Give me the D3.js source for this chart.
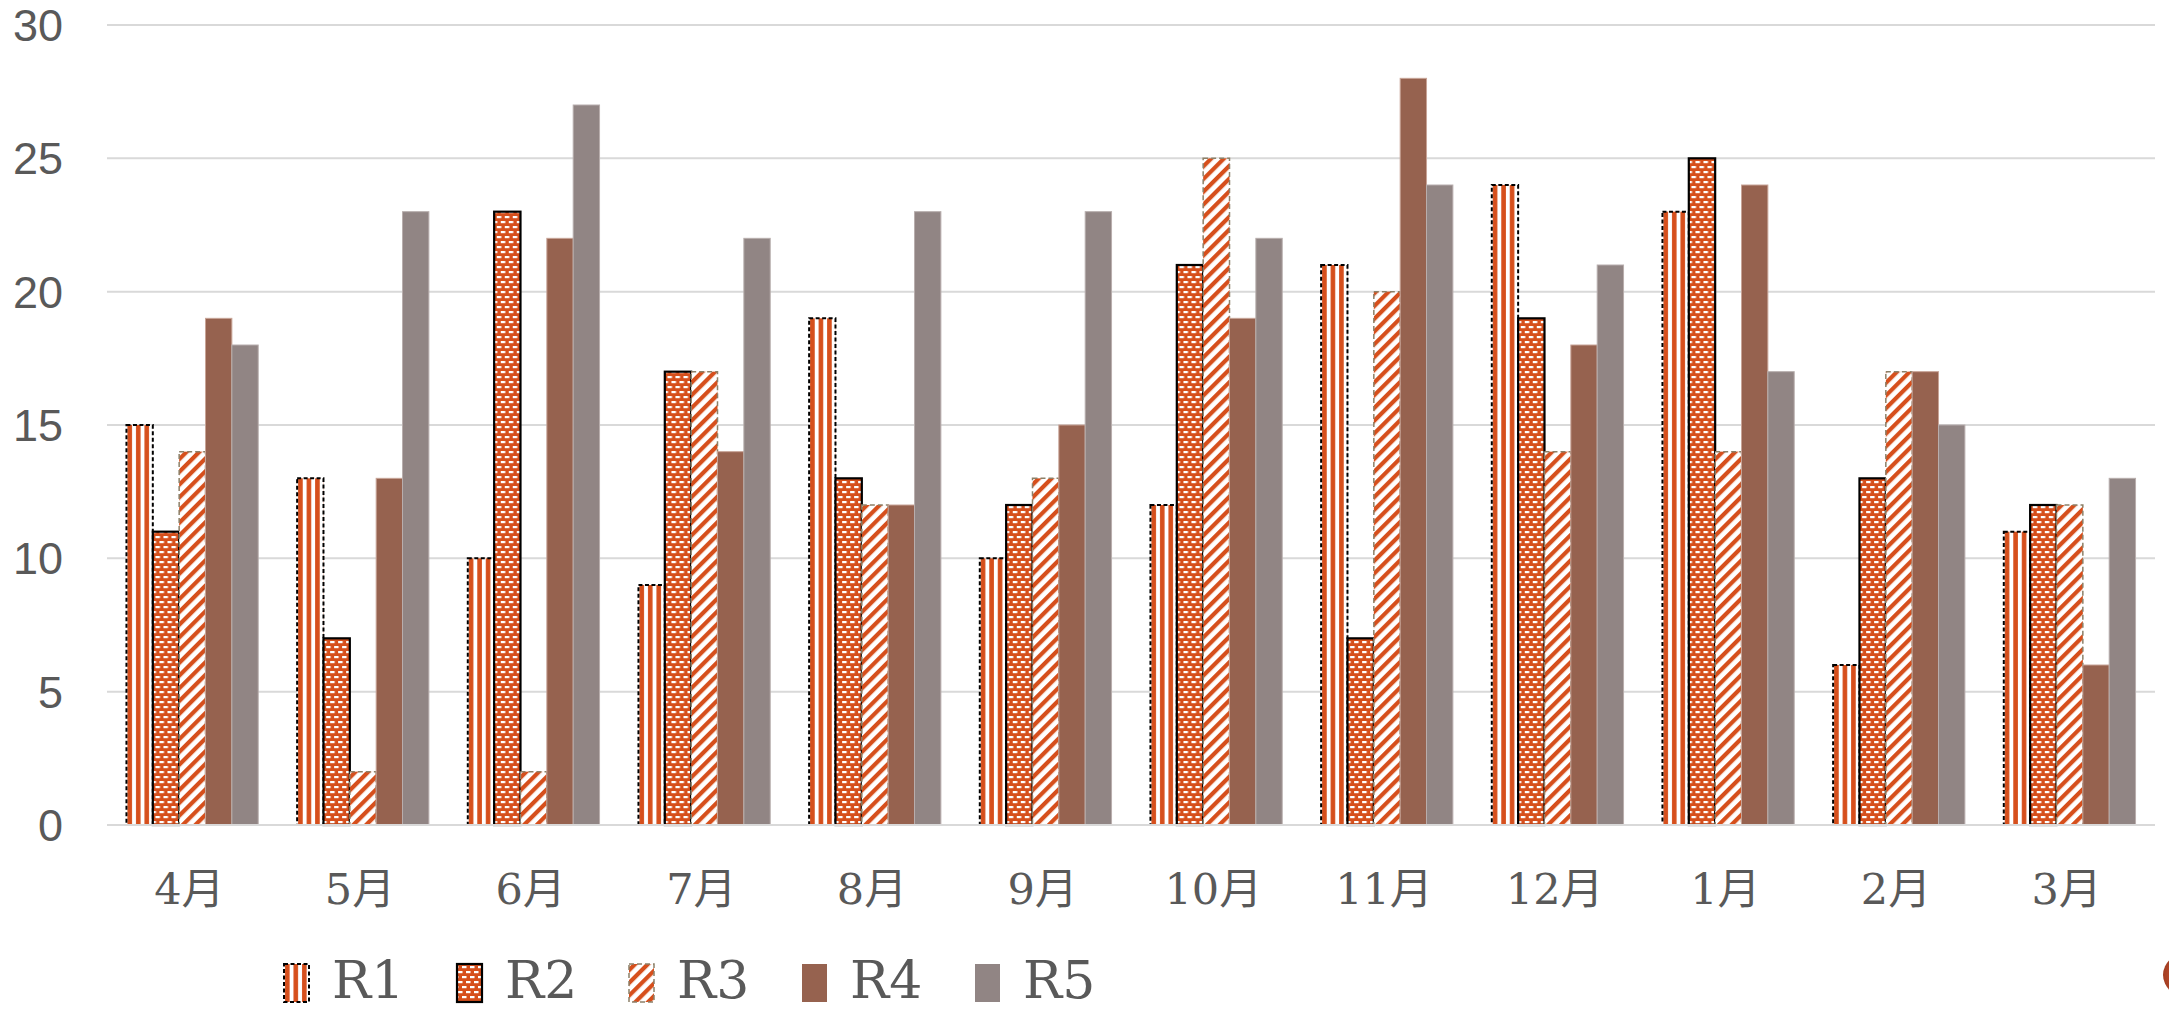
<!DOCTYPE html>
<html>
<head>
<meta charset="utf-8">
<script src="https://cdn.jsdelivr.net/npm/d3@7"></script>
<style>
  html, body { margin: 0; padding: 0; background: #fff; }
  svg { display: block; }
</style>
</head>
<body>
<svg id="chart" width="2169" height="1010"></svg>
<script>
// Monthly counts per series (fiscal year order, April to March)
const months = ["4月","5月","6月","7月","8月","9月","10月","11月","12月","1月","2月","3月"];
const seriesNames = ["R1","R2","R3","R4","R5"];
const R1 = [15, 13, 10, 9, 19, 10, 12, 21, 24, 23, 6, 11];
const R2 = [11, 7, 23, 17, 13, 12, 21, 7, 19, 25, 13, 12];
const R3 = [14, 2, 2, 17, 12, 13, 25, 20, 14, 14, 17, 12];
const R4 = [19, 13, 22, 14, 12, 15, 19, 28, 18, 24, 17, 6];
const R5 = [18, 23, 27, 22, 23, 23, 22, 24, 21, 17, 15, 13];
const yTicks = [0, 5, 10, 15, 20, 25, 30];

const seriesValues = [R1, R2, R3, R4, R5];

const ORANGE = "#D64F1C";
const BROWN = "#96624F";
const GREY = "#918584";
const TEXT = "#595959";
const GRID = "#D9D9D9";

const svg = d3.select("#chart");
const defs = svg.append("defs");

// R1: wide vertical stripes
const p1 = defs.append("pattern").attr("id", "pat-r1")
  .attr("patternUnits", "userSpaceOnUse").attr("width", 8.5).attr("height", 8);
p1.append("rect").attr("width", 8.5).attr("height", 8).attr("fill", "#fff");
p1.append("rect").attr("x", 1).attr("width", 4.6).attr("height", 8).attr("fill", ORANGE);

// R2: staggered white dashes on orange
const p2 = defs.append("pattern").attr("id", "pat-r2")
  .attr("patternUnits", "userSpaceOnUse").attr("width", 8).attr("height", 10);
p2.append("rect").attr("width", 8).attr("height", 10).attr("fill", ORANGE);
p2.append("rect").attr("x", 1).attr("y", 1).attr("width", 4.5).attr("height", 2.2).attr("fill", "#fff");
p2.append("rect").attr("x", 5).attr("y", 6).attr("width", 4.5).attr("height", 2.2).attr("fill", "#fff");
p2.append("rect").attr("x", -3).attr("y", 6).attr("width", 4.5).attr("height", 2.2).attr("fill", "#fff");

// R3: wide upward diagonal stripes
const p3 = defs.append("pattern").attr("id", "pat-r3")
  .attr("patternUnits", "userSpaceOnUse").attr("width", 9).attr("height", 9)
  .attr("patternTransform", "rotate(45)");
p3.append("rect").attr("width", 9).attr("height", 9).attr("fill", "#fff");
p3.append("rect").attr("x", 0).attr("width", 4.2).attr("height", 9).attr("fill", ORANGE);

const styles = [
  { fill: "url(#pat-r1)", stroke: "#000", sw: 2, dash: "4,2.5" },
  { fill: "url(#pat-r2)", stroke: "#000", sw: 2.2, dash: null },
  { fill: "url(#pat-r3)", stroke: "#8C8068", sw: 1.5, dash: "5,3" },
  { fill: BROWN, stroke: "#C8A497", sw: 1, dash: null },
  { fill: GREY, stroke: "#B8AEAD", sw: 1, dash: null }
];

const plotLeft = 107, plotRight = 2155, plotTop = 25, plotBottom = 825;

const x0 = d3.scaleBand().domain(months).range([plotLeft, plotRight])
  .paddingInner(0.228).paddingOuter(0.114);
const x1 = d3.scaleBand().domain(seriesNames).range([0, x0.bandwidth()]).padding(0);
const y = d3.scaleLinear().domain([0, 30]).range([plotBottom, plotTop]);

// Horizontal gridlines
svg.append("g").selectAll("line").data(yTicks).join("line")
  .attr("x1", plotLeft).attr("x2", plotRight)
  .attr("y1", d => y(d)).attr("y2", d => y(d))
  .attr("stroke", GRID).attr("stroke-width", 2);

// Y-axis tick labels
svg.append("g").selectAll("text").data(yTicks).join("text")
  .attr("x", 63).attr("y", d => y(d) + 16)
  .attr("text-anchor", "end")
  .attr("font-family", "'Liberation Sans', Arial, sans-serif")
  .attr("font-size", 45)
  .attr("fill", TEXT)
  .text(d => d);

// Bars
const groups = svg.append("g").selectAll("g").data(months).join("g")
  .attr("transform", m => `translate(${x0(m)},0)`);

groups.selectAll("rect")
  .data((m, i) => seriesNames.map((s, k) => ({ s, k, v: seriesValues[k][i] })))
  .join("rect")
  .attr("x", d => x1(d.s))
  .attr("y", d => y(d.v))
  .attr("width", x1.bandwidth())
  .attr("height", d => y(0) - y(d.v))
  .attr("fill", d => styles[d.k].fill)
  .attr("stroke", d => styles[d.k].stroke)
  .attr("stroke-width", d => styles[d.k].sw)
  .attr("stroke-dasharray", d => styles[d.k].dash);

// Category axis line
svg.append("line").attr("x1", plotLeft).attr("x2", plotRight)
  .attr("y1", plotBottom).attr("y2", plotBottom)
  .attr("stroke", GRID).attr("stroke-width", 2);

// X-axis labels
svg.append("g").selectAll("text").data(months).join("text")
  .attr("x", m => x0(m) + x0.bandwidth() / 2 - 3)
  .attr("y", 904)
  .attr("text-anchor", "middle")
  .attr("font-family", "'DejaVu Serif', 'Noto Sans CJK JP', serif")
  .attr("font-size", 43)
  .attr("fill", TEXT)
  .text(m => m);

// Legend
const legendX = [284, 457, 629, 802, 975];
const legend = svg.append("g").selectAll("g").data(seriesNames).join("g")
  .attr("transform", (s, k) => `translate(${legendX[k]},0)`);
legend.append("rect")
  .attr("x", 0).attr("y", 964).attr("width", 25).attr("height", 38)
  .attr("fill", (s, k) => styles[k].fill)
  .attr("stroke", (s, k) => k < 3 ? styles[k].stroke : "none")
  .attr("stroke-width", (s, k) => styles[k].sw)
  .attr("stroke-dasharray", (s, k) => styles[k].dash);
legend.append("text")
  .attr("x", 48).attr("y", 998)
  .attr("font-family", "'DejaVu Serif', serif")
  .attr("font-size", 52)
  .attr("fill", TEXT)
  .text(s => s);

// Decorative marbled disc at the lower right corner
const grad = defs.append("radialGradient").attr("id", "disc");
grad.append("stop").attr("offset", "0%").attr("stop-color", "#D06A45");
grad.append("stop").attr("offset", "70%").attr("stop-color", "#B84A2A");
grad.append("stop").attr("offset", "100%").attr("stop-color", "#A33E22");
svg.append("ellipse").attr("cx", 2190).attr("cy", 975)
  .attr("rx", 27).attr("ry", 23).attr("fill", "url(#disc)");
</script>
</body>
</html>
